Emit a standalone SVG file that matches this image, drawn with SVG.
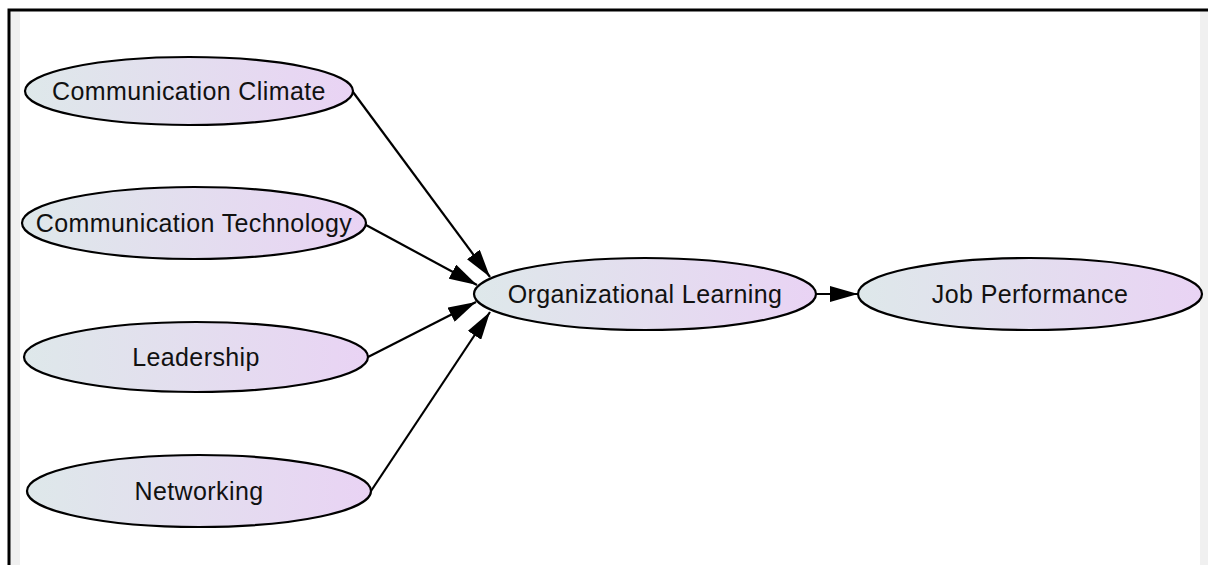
<svg xmlns="http://www.w3.org/2000/svg" width="1208" height="565" viewBox="0 0 1208 565">
  <style>
    .node ellipse { fill: url(#nodeFill); stroke: #000; stroke-width: 2.2; }
    .node text { font-family: "Liberation Sans", Arial, sans-serif; font-size: 25px; letter-spacing: 0.4px; fill: #111; text-anchor: middle; dominant-baseline: central; }
    .edge { stroke: #000; stroke-width: 2.2; fill: none; marker-end: url(#arrow); }
  </style>
  <defs>
    <linearGradient id="nodeFill" x1="0" y1="0" x2="1" y2="0">
      <stop offset="0" stop-color="#dee8ea"/>
      <stop offset="1" stop-color="#e9d3f4"/>
    </linearGradient>
    <marker id="arrow" viewBox="0 0 28 16" refX="28" refY="8" markerWidth="28" markerHeight="16" markerUnits="userSpaceOnUse" orient="auto">
      <path d="M0,0 L28,8 L0,16 Z" fill="#000"/>
    </marker>
  </defs>

  <!-- canvas and frame -->
  <rect x="0" y="0" width="1208" height="565" fill="#fff"/>
  <rect x="10" y="11" width="10" height="554" fill="#f0f0f0"/>
  <rect x="1200" y="11" width="8" height="554" fill="#f0f0f0"/>
  <path d="M9,565 V10 H1208" fill="none" stroke="#000" stroke-width="3"/>

  <!-- connectors -->
  <g id="edges">
    <line class="edge" x1="353" y1="92" x2="490" y2="277"/>
    <line class="edge" x1="366" y1="225" x2="477" y2="285"/>
    <line class="edge" x1="368" y1="357" x2="476" y2="302"/>
    <line class="edge" x1="371" y1="491" x2="490" y2="312"/>
    <line class="edge" x1="816" y1="294" x2="858" y2="294"/>
  </g>

  <!-- nodes -->
  <g id="communication-climate" class="node">
    <ellipse cx="189" cy="91" rx="164" ry="34"/>
    <text x="189" y="91">Communication Climate</text>
  </g>
  <g id="communication-technology" class="node">
    <ellipse cx="194" cy="223" rx="172" ry="36"/>
    <text x="194" y="223">Communication Technology</text>
  </g>
  <g id="leadership" class="node">
    <ellipse cx="196" cy="357" rx="172" ry="35"/>
    <text x="196" y="357">Leadership</text>
  </g>
  <g id="networking" class="node">
    <ellipse cx="199" cy="491" rx="172" ry="36"/>
    <text x="199" y="491">Networking</text>
  </g>
  <g id="organizational-learning" class="node">
    <ellipse cx="645" cy="294" rx="171" ry="36"/>
    <text x="645" y="294">Organizational Learning</text>
  </g>
  <g id="job-performance" class="node">
    <ellipse cx="1030" cy="294" rx="172" ry="36"/>
    <text x="1030" y="294">Job Performance</text>
  </g>
</svg>
